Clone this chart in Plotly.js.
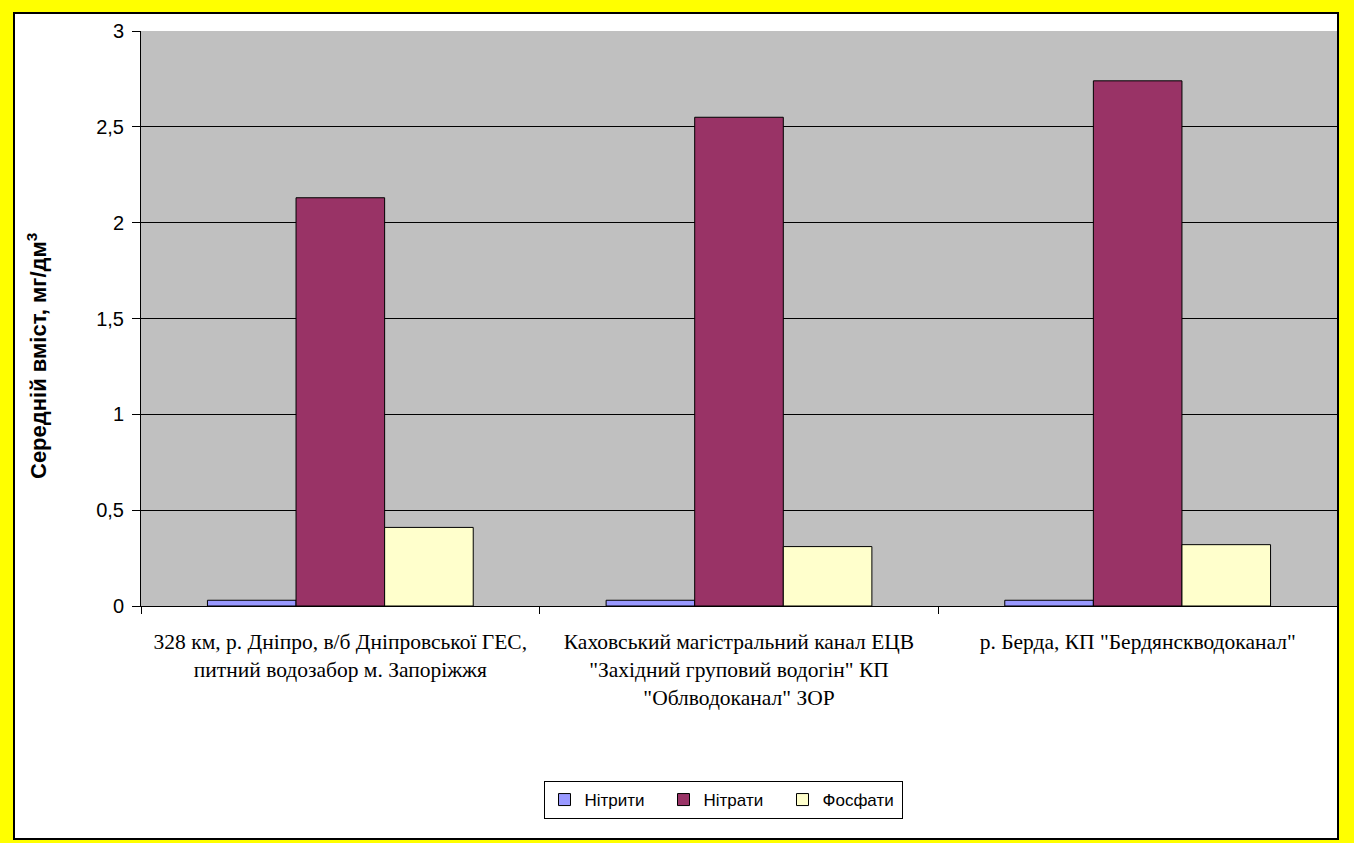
<!DOCTYPE html>
<html>
<head>
<meta charset="utf-8">
<script src="https://cdn.plot.ly/plotly-3.0.1.min.js"></script>
<style>
  html, body { margin: 0; padding: 0; background: #FFFF00; }
  #frame {
    position: absolute; left: 13px; top: 12px;
    width: 1322px; height: 824px;
    border: 2px solid #000; background: #FFFFFF;
  }
  #chart { position: absolute; left: 0; top: 0; width: 1354px; height: 843px; }
</style>
</head>
<body>
<div id="frame"></div>
<div id="chart"></div>
<script>
// Sampling points (x-axis categories)
const sites = [
  '328 км, р. Дніпро, в/б Дніпровської ГЕС,<br>питний водозабор м. Запоріжжя',
  'Каховський магістральний канал ЕЦВ<br>"Західний груповий водогін" КП<br>"Облводоканал" ЗОР',
  'р. Берда, КП "Бердянскводоканал"'
];

// Mean content, mg/dm3
const nitrites = [0.03, 0.03, 0.03];
const nitrates = [2.13, 2.55, 2.74];
const phosphates = [0.41, 0.31, 0.32];

const seriesNames = ['Нітрити', 'Нітрати', 'Фосфати'];
const seriesColors = ['#9999FF', '#993366', '#FFFFCC'];
const seriesValues = [nitrites, nitrates, phosphates];

const yTicks = [0, 0.5, 1, 1.5, 2, 2.5, 3];

const traces = seriesValues.map((vals, i) => ({
  type: 'bar',
  name: seriesNames[i],
  x: sites,
  y: vals,
  marker: { color: seriesColors[i], line: { color: '#000000', width: 1 } },
  hoverinfo: 'x+y+name'
}));

const layout = {
  width: 1354,
  height: 843,
  margin: { l: 141, r: 17, t: 31, b: 237, pad: 0 },
  paper_bgcolor: 'rgba(0,0,0,0)',
  plot_bgcolor: '#C0C0C0',
  separators: ', ',
  barmode: 'group',
  bargap: 1 / 3,
  bargroupgap: 0,
  font: { family: 'Liberation Sans, Arial, sans-serif', color: '#000000' },
  xaxis: {
    type: 'category',
    showline: true, linecolor: '#000000', linewidth: 1,
    ticks: 'outside', tickson: 'boundaries', ticklen: 7, tickcolor: '#000000',
    showgrid: false,
    tickfont: { family: 'Liberation Serif, Times New Roman, serif', size: 21.5, color: '#000000' },
    ticklabelstandoff: 16
  },
  yaxis: {
    range: [0, 3],
    tickvals: yTicks,
    showline: true, linecolor: '#000000', linewidth: 1,
    ticks: 'outside', ticklen: 8, tickcolor: '#000000',
    showgrid: true, gridcolor: '#000000', gridwidth: 1,
    zeroline: false,
    tickfont: { family: 'Liberation Sans, Arial, sans-serif', size: 20, color: '#000000' },
    ticklabelstandoff: 4
  },
  showlegend: true,
  legend: {
    orientation: 'h',
    x: (723 - 141) / 1196, xanchor: 'center',
    y: (606 - 800) / 575, yanchor: 'middle',
    bordercolor: '#000000', borderwidth: 1,
    bgcolor: '#FFFFFF',
    entrywidth: 74, entrywidthmode: 'pixels',
    font: { family: 'Liberation Sans, Arial, sans-serif', size: 17, color: '#000000' },
    traceorder: 'normal'
  },
  annotations: [{
    xref: 'paper', yref: 'paper',
    x: (37 - 141) / 1196, y: (606 - 356) / 575,
    xanchor: 'center', yanchor: 'middle',
    textangle: -90,
    showarrow: false,
    text: '<b>Середній вміст, мг/дм<sup>3</sup></b>',
    font: { family: 'Liberation Sans, Arial, sans-serif', size: 22, color: '#000000' }
  }]
};

Plotly.newPlot('chart', traces, layout, { displayModeBar: false, staticPlot: true });
</script>
</body>
</html>
